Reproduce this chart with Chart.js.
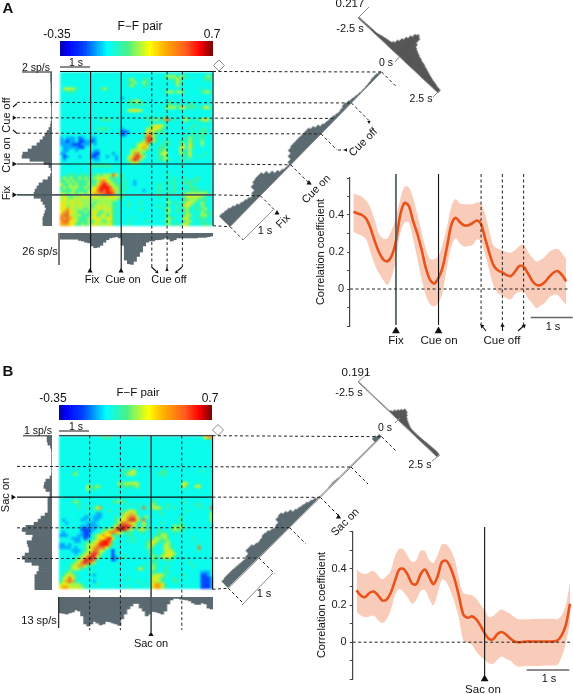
<!DOCTYPE html>
<html>
<head>
<meta charset="utf-8">
<script src="https://cdn.jsdelivr.net/npm/chart.js@4"></script>
<style>
body { margin: 0; background: #fff; font-family: "Liberation Sans", Arial, sans-serif; color: #111; }
#fig { position: relative; width: 573px; height: 694px; overflow: hidden; }
canvas { position: absolute; }
.lbl { position: absolute; white-space: nowrap; line-height: 1; }
</style>
</head>
<body>
<div id="fig"></div>
<script>
// heat cells are written in tenths of r: a=-0.2, b=-0.1, 0..7 = 0..0.7 (rows from top, 50x50)
const blank = '0000000000 0000000000 0000000000 0000000000 0000000000';
const heatA = [
blank,
'0000000000 0000000000 0000000000 0000122212 1100000120',
'0000000000 0000000000 0012100110 0000010131 0000000111',
'0000000000 0000000000 0011200210 0000000121 0000000000',
'0000000000 0000000000 0012100110 0000000020 0000000000',
'0232210000 0001210000 0000000000 0000000000 0000001000',
'0011100000 0000000000 0000000000 0000122122 1000001220',
blank,
'0000000000 0000000000 b000000000 0000000000 0000000000',
'0000000000 0000000000 0011221000 0000001000 0000000000',
'0000000000 0000000000 0011111100 0000011010 0011000000',
'0000000000 0000000000 0000000000 0000122212 3111101320',
'0000000000 0000000000 0023332000 0000000000 0000000000',
blank,
'0000000000 0000000000 0000000010 0000100000 0000000000',
'0000000000 0001111000 0000000011 1211450100 2210112320',
'0000000000 0000000000 0000000000 0000000000 0000000100',
'0000000000 0000000000 0000000001 2332100000 0001100000',
'0000000000 0011110000 b000000022 3321000000 0010001100',
'0000000000 0000000000 aab0000034 2111000000 0001011100',
'0000000000 0000000000 ab00000145 2100100000 0101101100',
'b0bbb0ab00 bb00000000 0000000156 2100000000 1021011000',
'bbabb0aabb ab00000000 0000001256 2100110001 1021002000',
'bbbbaaabbb 0b00000000 0000023341 0001010001 2031002000',
'0bbbbbaa00 0000000000 0000123430 0011100002 3031000000',
'0bb00b0000 0bb0000000 0002232210 0011200002 1020000000',
'bb00000000 baa0000b00 0002452100 0012300002 1130000100',
'0ab000b000 aab00b00b0 0023564200 0011200000 1020010000',
'0b00000000 0bb00000b0 0024652000 0011210001 1010000000',
'0000000000 0000000000 0012320000 0000000000 0000000000',
'0000000000 1111111000 0000000000 0000000000 0000000000',
blank,
blank,
'0011101110 1121222530 1000000000 0000010000 0000000000',
'1212112121 1223321110 1000000000 0000000100 0000110000',
'1121211112 1124532110 0100b00000 0000010100 1111100000',
'2112121112 1135652211 1000b00000 0010010100 0110000000',
'1212221121 2346665221 0100000000 0010000100 0011100000',
'1111211112 3356565421 1000000b00 0010010100 1011110100',
'2212212213 3445566520 1000000000 0010010100 1222222210',
'2321222332 3332233322 1000000000 0010010000 1332322100',
'2322232222 2222222221 0000000000 0000010000 1122211100',
'3323323222 2122222100 0010001000 0000020101 1332102100',
'3322323222 1232322110 0010000000 0010010010 2320102100',
'3343222212 2232323100 0000001000 0000120010 1210111200',
'3453321121 3321222110 0000000000 0000020010 1210002110',
'4553222111 2312313100 0000000000 0000110000 1220102210',
'5454321112 3332233100 0001000000 0000021100 2310011100',
'4553321112 1232122110 0000000010 0000120000 1220010100',
'4443311212 2322223100 0010000000 0000020110 3210001110'
];
const heatB = [
'0000000000 0000111000 0000001000 0000000000 0000000344',
blank, blank, blank, blank, blank, blank, blank, blank, blank, blank,
'0000010000 0000000000 0112300000 0001100000 0000001000',
'0000120000 0000000000 0123200000 0011100000 0000000000',
blank,
blank,
'0000000000 0000000002 1222320000 0000000000 3200010000',
'0000000003 1121000001 1111120000 0000000000 3100230000',
'0000000002 0100000000 0000000000 0000000000 0000000000',
blank,
blank,
blank,
'0000121000 0000000112 1100000000 1100000000 1000000000',
'0000001000 0000000000 0010010000 2100010000 0000110000',
'0000001001 0134000000 0000000510 2321010100 0000001005',
'0000000000 0010001000 1123210000 0010000000 0100000001',
'0000000000 00bb000000 1334310000 0001000000 0000000002',
'00000000bb 0bbb000010 2345530120 0000000001 0000000002',
'0b00000bb0 0bb0000012 3356631500 0000000001 0000000002',
'00b000000b bb00000012 5543310310 0001000001 0000000001',
'0000000bbb bbb0000135 6665210210 0000000212 1000000000',
'0000000aaa bb00112257 7642113211 0010001221 1000000000',
'0b00000baa b001234543 2111001100 0011100101 0000000000',
'bbb000bbaa 0123433111 0011000000 0112210000 0000000000',
'0000bbb0ab 0123356300 0000100000 1221210000 0001000000',
'00000bb001 1235665100 0010100011 3211120000 0000000000',
'bb0b000012 2346664100 0000000012 3100221000 0000010000',
'bbbb0b0012 3455531000 0000000012 1000321000 0000050000',
'0000bbb012 3553200a00 0000000001 1000232100 0000010000',
'00000b0123 5652000a00 0000000001 1001233200 0000000000',
'0000001235 6631000ab0 0100000000 2112332100 0000000000',
'0000012366 6510000ab0 0000000000 1100111000 0000000000',
'0000123565 4200000000 0000000000 1100000000 0010000000',
'0001234431 1000000000 0000000100 2100010000 0001000000',
'0001232100 0000000000 0000013100 2100100000 0000000000',
'0012100000 1000000000 0000000000 1100110000 000000bbb0',
'0123210000 0b00000000 0000000000 2232100000 100000aab0',
'0235310000 0000000000 0010000000 3321100100 000000aaab',
'1245410000 0b00000000 0000010000 3221000110 000000aaab',
'2332222100 0010000000 0000000100 3443100000 000000aaab',
'3443232210 0000000000 0010000000 3442100000 000000aaab'
];

// firing rates (sp/s), rows/bins from the start of the window
const leftA = [.1,.1,.1,.08,.07,.07,.07,.07,.07,.07,.05,.03,.03,.03,.03,.03,.07,.1,.21,.34,.48,.62,.82,1.03,1.37,1.64,1.99,2.05,1.51,.55,.21,.07,.03,.1,.27,.62,.89,1.03,1.16,1.23,1.23,.75,.62,.48,.41,.48,.55,.62,.62,.62];
const bottomA = [5,5,5,5,5,5,6,6.5,7.5,8,10.5,12,11.5,10,7.5,5.5,4,3.5,3,4,10,22,25,25.5,23,19,15.5,10.5,7.5,6.5,6.5,5.5,5.5,5,4,5,6.5,5.5,4,4,4,4,4,4,4,3.5,3.5,3.5,3,2.5];
const diagRateA = [1.03,.99,.96,.86,.75,.62,.55,.48,.38,.55,.89,1.03,1.08,1.07,.89,.62,.38,.21,.12,.1,.27,.55,.82,.89,.89,.9,.89,.89,.89,.75,.58,.41,.32,.29,.27,.21,.17,.21,.31,.24,.18,.14,.1,.07,.07,.09,.12,.17,.17,.1];
const crossA = [.008,.008,.008,.009,.01,.011,.011,.011,.012,.012,.013,.015,.019,.023,.026,.03,.032,.034,.038,.053,.083,.113,.143,.173,.203,.217,.203,.158,.135,.124,.116,.109,.101,.098,.09,.086,.083,.075,.071,.064,.06,.054,.05,.045,.041,.038,.034,.03,.028,.026];

const leftB = [.17,.17,.14,.05,.02,.01,.01,.01,.01,.01,.01,.01,.02,.07,.21,.26,.28,.21,.07,.07,.14,.14,.14,.14,.14,.24,.38,.48,.62,.9,1.03,.9,.66,.69,.86,.83,.79,.79,.93,1.03,.93,.69,.45,.45,.52,.59,.59,.59,.59,.59];
const bottomB = [6.9,7.1,7.4,6.9,6.5,5.6,6.1,8.2,11.7,12.6,11.7,10.6,11.3,12.1,11.7,10.6,10.8,11.3,11.7,12.3,9.5,7.4,5.2,3.9,2.8,2.8,4.8,6.1,8.2,7.4,6.3,6.5,6.9,7.4,6.1,3,1.3,.6,.6,.9,1.1,1.3,1.7,2.6,3.2,3.2,2.6,3,4.8,5.2];
const diagRateB = [.31,.33,.33,.33,.32,.31,.3,.29,.34,.48,.48,.41,.38,.4,.45,.43,.38,.34,.38,.52,.55,.48,.4,.29,.25,.22,.19,.14,.1,.03,.01,.01,.01,.03,.04,.03,.01,.01,.01,.01,.01,.01,.01,.01,.01,.01,.01,.01,.16,.1];
const crossB = [.005,.005,.005,.005,.005,.005,.005,.005,.005,.005,.005,.005,.005,.005,.005,.005,.005,.005,.005,.012,.031,.076,.115,.153,.191,.183,.153,.115,.092,.076,.061,.046,.038,.035,.034,.034,.034,.036,.038,.04,.042,.044,.046,.048,.05,.052,.054,.056,.054,.05];

// correlation time courses
const timesA = [-1,-.9,-.8,-.7,-.6,-.5,-.4,-.3,-.2,-.1,0,.1,.2,.3,.4,.5,.6,.7,.8,.9,1,1.1,1.2,1.3,1.4,1.5,1.6,1.7,1.8,1.9,2,2.1,2.2,2.3,2.4,2.5,2.6,2.7,2.8,2.9,3,3.1,3.2,3.3,3.4,3.5,3.6,3.7,3.8,3.9,4];
const meanA = [.418,.408,.4,.38,.33,.26,.2,.16,.15,.18,.26,.4,.465,.45,.37,.3,.215,.115,.05,.03,.06,.12,.23,.345,.385,.362,.344,.345,.356,.37,.35,.27,.19,.125,.1,.09,.075,.07,.095,.125,.12,.085,.045,.022,.022,.038,.065,.088,.097,.076,.042];
const upperA = [.517,.508,.5,.477,.441,.373,.297,.272,.276,.319,.387,.485,.553,.55,.495,.405,.31,.22,.162,.162,.175,.247,.337,.445,.486,.463,.458,.458,.458,.468,.463,.4,.31,.232,.218,.209,.2,.196,.211,.232,.241,.202,.171,.148,.16,.175,.2,.214,.216,.193,.16];
const lowerA = [.31,.297,.288,.268,.202,.133,.085,.049,.022,.067,.16,.3,.36,.359,.274,.166,.054,-.032,-.083,-.095,-.077,-.014,.121,.229,.274,.247,.229,.232,.238,.268,.256,.184,.094,.013,-.023,-.036,-.05,-.056,-.027,-.016,-.014,-.05,-.077,-.104,-.09,-.074,-.045,-.032,-.032,-.059,-.086];

const timesB = [-3,-2.9,-2.8,-2.7,-2.6,-2.5,-2.4,-2.3,-2.2,-2.1,-2,-1.9,-1.8,-1.7,-1.6,-1.5,-1.4,-1.3,-1.2,-1.1,-1,-.9,-.8,-.7,-.6,-.5,-.4,-.3,-.2,-.1,0,.1,.2,.3,.4,.5,.6,.7,.8,.9,1,1.1,1.2,1.3,1.4,1.5,1.6,1.7,1.8,1.9,2];
const meanB = [.282,.253,.245,.267,.275,.256,.227,.231,.267,.333,.395,.398,.365,.318,.315,.369,.395,.355,.315,.358,.436,.442,.405,.34,.249,.151,.133,.14,.125,.091,.049,.018,.016,.045,.055,.042,.02,.004,0,.002,.004,.004,.004,.004,.004,.004,.004,.009,.036,.091,.209];
const upperB = [.395,.378,.369,.38,.387,.364,.342,.358,.387,.467,.507,.504,.467,.436,.445,.496,.496,.445,.431,.473,.531,.531,.504,.449,.345,.267,.26,.255,.238,.205,.176,.136,.142,.164,.178,.167,.155,.136,.124,.124,.125,.125,.127,.127,.127,.127,.127,.125,.145,.2,.327];
const lowerB = [.164,.145,.136,.14,.145,.122,.104,.122,.173,.255,.289,.273,.242,.209,.231,.278,.285,.236,.2,.264,.34,.327,.278,.213,.127,.009,-.005,-.013,-.051,-.076,-.096,-.115,-.118,-.096,-.078,-.091,-.1,-.122,-.133,-.131,-.129,-.129,-.129,-.129,-.127,-.127,-.127,-.124,-.082,-.009,.109];

const colorStops = [[0,0,0,170],[.05,0,0,255],[.16,0,70,255],[.31,0,255,255],[.44,70,240,140],[.59,255,255,0],[.68,255,180,0],[.83,255,90,30],[.92,255,0,0],[1,128,0,0]];

const fig = document.getElementById('fig');
const slate = '#5b6a71';

function heatColor(v) {
    const f = Math.min(1, Math.max(0, (v + 0.35) / 1.05));
    for (let i = 1; i < colorStops.length; i++) {
        if (f <= colorStops[i][0]) {
            const a = colorStops[i - 1], b = colorStops[i];
            const k = (f - a[0]) / (b[0] - a[0]);
            return `rgb(${a[1] + (b[1] - a[1]) * k},${a[2] + (b[2] - a[2]) * k},${a[3] + (b[3] - a[3]) * k})`;
        }
    }
    return 'rgb(128,0,0)';
}

function addCanvas(x, y, w, h) {
    const c = document.createElement('canvas');
    c.width = w; c.height = h;
    c.style.left = x + 'px'; c.style.top = y + 'px';
    c.style.width = w + 'px'; c.style.height = h + 'px';
    fig.appendChild(c);
    return c;
}

const baseOptions = {
    responsive: false,
    animation: false,
    events: [],
    plugins: { legend: { display: false }, tooltip: { enabled: false } },
    layout: { padding: 0, autoPadding: false }
};

function drawColorbar(x, y, w, h) {
    const vals = [];
    for (let i = 0; i <= 105; i++) vals.push(-0.35 + i / 100);
    new Chart(addCanvas(x, y, w, h), {
        type: 'bar',
        data: { labels: vals, datasets: [{ data: vals.map(() => 1), backgroundColor: vals.map(heatColor), categoryPercentage: 1, barPercentage: 1, borderWidth: 0 }] },
        options: { ...baseOptions, scales: { x: { display: false }, y: { display: false, min: 0, max: 1 } } }
    });
}

function drawHeat(rows, p) {
    const pts = [], cols = [];
    rows.forEach((row, r) => {
        row.replace(/ /g, '').split('').forEach((ch, c) => {
            const v = ch === 'a' ? -0.2 : ch === 'b' ? -0.1 : Number(ch) / 10;
            pts.push({ x: c + 0.5, y: r + 0.5 });
            cols.push(heatColor(v));
        });
    });
    const cv = addCanvas(p.x, p.y, p.w, p.h);
    cv.style.background = '#00ffff';
    cv.style.filter = 'blur(0.8px)';
    new Chart(cv, {
        type: 'scatter',
        data: { datasets: [{ data: pts, pointStyle: 'rect', pointRadius: 2.2, pointBorderWidth: 0, pointBackgroundColor: cols }] },
        options: { ...baseOptions, scales: { x: { display: false, min: 0, max: 50 }, y: { display: false, min: 0, max: 50, reverse: true } } }
    });
}

// histogram, hanging off one edge of its canvas
function histOptions(horizontal, reversed, max) {
    const v = { display: false, min: 0, max: max, reverse: reversed };
    const cat = { display: false };
    return { ...baseOptions, indexAxis: horizontal ? 'y' : 'x', scales: horizontal ? { y: cat, x: v } : { x: cat, y: v } };
}

function drawHist(canvas, values, color, horizontal, reversed, max) {
    new Chart(canvas, {
        type: 'bar',
        data: { labels: values.map((_, i) => i), datasets: [{ data: values, backgroundColor: color, categoryPercentage: 1, barPercentage: 1, borderWidth: 0 }] },
        options: histOptions(horizontal, reversed, max)
    });
}

// canvas laid along a slanted baseline, bars stand on the baseline
function drawSlanted(b, h, values, color, max) {
    const len = Math.hypot(b.x1 - b.x0, b.y1 - b.y0);
    const c = addCanvas(b.x0, b.y0 - h, Math.round(len), h);
    c.style.transformOrigin = '0 100%';
    c.style.transform = `rotate(${Math.atan2(b.y1 - b.y0, b.x1 - b.x0)}rad)`;
    drawHist(c, values, color, false, false, max);
}

function drawCourse(g, times, mean, upper, lower) {
    const xy = arr => arr.map((v, i) => ({ x: times[i], y: v }));
    const cv = addCanvas(g.cx, g.cy, g.cw, g.ch);
    new Chart(cv, {
        type: 'line',
        data: { datasets: [
            { data: xy(mean), borderColor: '#e9521a', borderWidth: 2.6, pointRadius: 0, tension: 0.3, fill: false },
            { data: xy(upper), borderWidth: 0, pointRadius: 0, tension: 0.3, fill: '+1', backgroundColor: '#f8ccb8' },
            { data: xy(lower), borderWidth: 0, pointRadius: 0, tension: 0.3, fill: false }
        ] },
        options: {
            ...baseOptions,
            layout: { padding: { top: g.top, bottom: g.bottom, left: 0, right: 0 }, autoPadding: false },
            scales: {
                x: { type: 'linear', display: false, min: g.tMin, max: g.tMax },
                y: {
                    min: -0.2, max: 0.6,
                    afterFit(s) { s.width = g.axisW; s.paddingTop = 0; s.paddingBottom = 0; },
                    border: { color: '#444', width: 1.2 },
                    grid: { drawOnChartArea: false, tickLength: 3, color: '#444' },
                    ticks: {
                        stepSize: 0.1, autoSkip: false, padding: 3, color: '#222', maxRotation: 0,
                        font: { family: '"Liberation Sans"', size: 11 },
                        callback(v) {
                            const r = Math.round(v * 10) / 10;
                            return (r === 0.4 || r === 0.2 || r === 0) ? String(r) : '';
                        }
                    }
                }
            }
        }
    });
}

// ---- layout
const pA = { x: 60, y: 71.5, w: 153, h: 154.2, t0: -1 };
const pB = { x: 59, y: 435.7, w: 153.5, h: 153.6, t0: -3 };
const diagA = { x0: 230, y0: 226.7, x1: 381.7, y1: 72 };
const diagB = { x0: 228.3, y0: 588.3, x1: 381.7, y1: 436.7 };
const topA = { x0: 358, y0: 18, x1: 438, y1: 93 };
const topB = { x0: 358, y0: 382, x1: 437, y1: 457 };
const gA = { cx: 310, cy: 160, cw: 263, ch: 200, top: 18, bottom: 34, axisW: 40, tMin: -1.08, tMax: 4.16 };
const gB = { cx: 310, cy: 510, cw: 263, ch: 184, top: 21.7, bottom: 15, axisW: 42.7, tMin: -3.09, tMax: 2.07 };

drawColorbar(60, 41, 153, 15);
drawHeat(heatA, pA);
drawHist(addCanvas(21, 71.5, 31, 154), leftA, slate, true, true, 2.12);
drawHist(addCanvas(60, 233, 153, 32), bottomA, slate, false, true, 26);
drawSlanted(diagA, 20, diagRateA, slate, 1.37);
drawSlanted(topA, 32, crossA, '#565656', 0.24);
drawCourse(gA, timesA, meanA, upperA, lowerA);

drawColorbar(58.7, 405, 153.5, 15);
drawHeat(heatB, pB);
drawHist(addCanvas(21, 435.7, 31, 154), leftB, slate, true, true, 1.07);
drawHist(addCanvas(59, 597.3, 153.5, 30), bottomB, slate, false, true, 13);
drawSlanted(diagB, 20, diagRateB, slate, 0.69);
drawSlanted(topB, 16, crossB, '#565656', 0.245);
drawCourse(gB, timesB, meanB, upperB, lowerB);

// ---- guides and arrows, all on one page-sized chart on top
const xAt = (p, t) => p.x + (t - p.t0) / 5 * p.w;
const yAt = (p, t) => p.y + p.h - (t - p.t0) / 5 * p.h;
const dAt = (p, d, t) => { const k = (t - p.t0) / 5; return [d.x0 + (d.x1 - d.x0) * k, d.y0 + (d.y1 - d.y0) * k]; };
const gx = (g, t) => g.cx + g.axisW + (t - g.tMin) / (g.tMax - g.tMin) * (g.cw - g.axisW);
const gy = (g, v) => g.cy + g.top + (0.6 - v) / 0.8 * (g.ch - g.top - g.bottom);

const styles = {
    dash: { color: '#222', width: 1, dash: [3, 2.5], pts: [] },
    solid: { color: '#111', width: 1.1, dash: [], pts: [] },
    thick: { color: '#4b5a5e', width: 1.7, dash: [], pts: [] },
    thin: { color: '#8a8a8a', width: 1, dash: [], pts: [] },
    bar: { color: '#666', width: 1.4, dash: [], pts: [] }
};
const line = (s, ...xy) => {
    for (let i = 0; i < xy.length; i += 2) styles[s].pts.push({ x: xy[i], y: xy[i + 1] });
    styles[s].pts.push({ x: NaN, y: NaN });
};
const arrows = [];
const arrow = (x, y, rot, r) => arrows.push({ x, y, rot, r: r || 3 });

function panelGuides(p, d, g, solidT, thickT, dashT, cross) {
    // verticals
    thickT.forEach(t => line(p === pA ? 'solid' : 'thick', xAt(p, t), p.y, xAt(p, t), cross.vEndSolid));
    solidT.forEach(t => line('solid', xAt(p, t), p.y, xAt(p, t), cross.vEndSolid));
    dashT.forEach(t => line('dash', xAt(p, t), p.y, xAt(p, t), cross.vEndDash));
    // horizontals
    solidT.forEach(t => {
        const q = dAt(p, d, t);
        line('solid', 17, yAt(p, t), p.x + p.w, yAt(p, t));
        line('dash', p.x + p.w, yAt(p, t), q[0], q[1]);
    });
    thickT.forEach(t => {
        const q = dAt(p, d, t);
        line(p === pA ? 'thick' : 'solid', 17, yAt(p, t), p.x + p.w, yAt(p, t));
        line('dash', p.x + p.w, yAt(p, t), q[0], q[1]);
    });
    dashT.forEach(t => {
        const q = dAt(p, d, t);
        line('dash', 17, yAt(p, t), q[0], q[1]);
    });
    line('dash', p.x + p.w, p.y, d.x1, d.y1);
    line('dash', p.x + p.w, p.y + p.h, d.x0, d.y0);
    // box
    line('solid', p.x, p.y, p.x + p.w, p.y, p.x + p.w, p.y + p.h);
    // diagonal axis
    line('thin', d.x0, d.y0, d.x1, d.y1);
    // time course lines
    const y0 = gy(g, 0);
    line('dash', gx(g, g.tMin), y0, 570, y0);
}

panelGuides(pA, diagA, gA, [1], [0], [2, 2.5, 3], { vEndSolid: 270, vEndDash: 267 });
panelGuides(pB, diagB, gB, [], [0], [-2, -1, 1], { vEndSolid: 632, vEndDash: 630 });

// A: rate scale bars
line('bar', 60, 67, 90, 67);
line('bar', 22, 72, 52, 72);
line('solid', 59, 233, 59, 265);
// A: cue-off arrows under the map
line('solid', 151.5, 267, 156, 271);
line('solid', 182, 267, 177.5, 271);
line('solid', 167, 267, 167, 271);
arrow(157, 272, 135, 2); arrow(167, 270, 0, 2); arrow(176.5, 272, 225, 2);
arrow(90, 271, 0, 3); arrow(121, 271, 0, 3);
arrow(14, yAt(pA, 0), 90, 3); arrow(14, yAt(pA, 1), 90, 3);
arrow(14, yAt(pA, 2.5), 90, 2.5);
line('solid', 13, 107, 17, 103.5);
line('solid', 13, 130, 17, 133.5);
// A: off-diagonal ticks and labels
const diagTicks = (d, p, t, len, s) => { const q = dAt(p, d, t); line(s || 'dash', q[0], q[1], q[0] + len, q[1] + len); };
diagTicks(diagA, pA, 0, 15);
diagTicks(diagA, pA, 1, 20);
diagTicks(diagA, pA, 2, 16);
diagTicks(diagA, pA, 3, 18);
diagTicks(diagA, pA, 4, 15);
diagTicks(diagA, pA, -1, 13);
line('thin', 243, 240, 273, 210);
line('dash', 338, 150, 346, 150);
arrow(277, 213, 0, 3); arrow(309, 183, 0, 3);
arrow(346, 150, 270, 2); arrow(369, 122, 180, 2);
line('thin', 358, 18, 369, 7);
line('thin', 395, 62, 400, 56);
line('thin', 433, 97, 440, 90);
line('thin', 358, 18, 438, 93);
// A: time course events
[0].forEach(t => line('thick', gx(gA, t), 174, gx(gA, t), 325));
[1].forEach(t => line('solid', gx(gA, t), 174, gx(gA, t), 325));
[2, 2.5, 3].forEach(t => line('dash', gx(gA, t), 174, gx(gA, t), 325));
[0, 1].forEach(t => arrow(gx(gA, t), 331, 0, 4.5));
line('solid', 482, 326, 486, 331);
line('solid', 502.5, 326, 502.5, 331);
line('solid', 523.5, 326, 518, 331);
arrow(482, 326, 315, 2.5); arrow(502.5, 325.5, 0, 2.5); arrow(524, 326, 45, 2.5);
line('bar', 530.7, 317.5, 572.7, 317.5);

// B
line('bar', 59, 431, 89, 431);
line('bar', 23, 435.7, 52, 435.7);
line('solid', 58.7, 597, 58.7, 628);
arrow(151, 634.5, 0, 3);
arrow(13, yAt(pB, 0), 90, 3);
diagTicks(diagB, pB, 0, 18);
diagTicks(diagB, pB, -1, 16);
diagTicks(diagB, pB, -2, 16);
diagTicks(diagB, pB, 1, 17);
diagTicks(diagB, pB, 2, 15);
diagTicks(diagB, pB, -3, 14);
line('thin', 242, 605, 273, 573);
arrow(338.5, 517, 0, 3);
line('thin', 358, 382, 369, 372);
line('thin', 395, 423, 400, 418);
line('thin', 432, 461, 440, 455);
line('thin', 358, 382, 437, 457);
[0].forEach(t => line('solid', gx(gB, t), 527, gx(gB, t), 675));
arrow(gx(gB, 0), 679, 0, 4.5);
line('bar', 526.7, 670, 569.3, 670);

const overlay = addCanvas(0, 0, 573, 694);
new Chart(overlay, {
    type: 'scatter',
    data: { datasets: [
        ...Object.values(styles).map(s => ({
            data: s.pts, showLine: true, spanGaps: false, pointRadius: 0,
            borderColor: s.color, borderWidth: s.width, borderDash: s.dash, fill: false
        })),
        {
            data: arrows.map(a => ({ x: a.x, y: a.y })), pointStyle: 'triangle',
            pointRadius: arrows.map(a => a.r), pointRotation: arrows.map(a => a.rot),
            pointBackgroundColor: '#111', pointBorderWidth: 0
        },
        {
            data: [{ x: 219, y: 65.5 }, { x: 218, y: 430 }], pointStyle: 'rectRot', pointRadius: 5.5,
            pointBackgroundColor: '#fff', pointBorderColor: '#888', pointBorderWidth: 1
        }
    ] },
    options: { ...baseOptions, scales: { x: { display: false, min: 0, max: 573 }, y: { display: false, min: 0, max: 694, reverse: true } } }
});

// ---- text
const labels = [
    ['A', 8, 7, 15, 0, true], ['B', 8, 370, 15, 0, true],
    ['F\u2212F pair', 140, 26, 12, 0], ['-0.35', 57, 34, 12, 0], ['0.7', 212, 34, 12, 0],
    ['1 s', 76, 62, 10.5, 0], ['2 sp/s', 36, 67, 10.5, 0],
    ['Cue off', 5.5, 115, 11, -90], ['Cue on', 5.5, 155, 11, -90], ['Fix', 5.5, 193, 11, -90],
    ['26 sp/s', 40, 251, 11, 0],
    ['Fix', 92, 279, 11, 0], ['Cue on', 123, 279, 11, 0], ['Cue off', 169, 279, 11, 0],
    ['0.217', 350, 4, 11.5, 0], ['-2.5 s', 350, 28, 11, 0], ['0 s', 386, 62, 10.5, 0], ['2.5 s', 421, 98, 10.5, 0],
    ['Fix', 283, 221, 11, -45], ['1 s', 265, 230, 11, 0], ['Cue on', 316, 189, 11, -45], ['Cue off', 363, 142, 11, -45],
    ['Correlation coefficient', 320, 252, 11, -90],
    ['Fix', 396, 341, 11.5, 0], ['Cue on', 439, 341, 11.5, 0], ['Cue off', 502, 341, 11.5, 0], ['1 s', 553, 326, 11, 0],
    ['F\u2212F pair', 138, 393, 11.5, 0], ['-0.35', 53, 398, 12, 0], ['0.7', 210, 398, 12, 0],
    ['1 s', 76, 426, 10.5, 0], ['1 sp/s', 38, 430, 10.5, 0], ['Sac on', 4.5, 495, 11, -90], ['13 sp/s', 39, 620, 11, 0],
    ['Sac on', 151, 643, 11, 0],
    ['0.191', 356, 373, 11.5, 0], ['-2.5 s', 349, 392, 11, 0], ['0 s', 385, 427, 10.5, 0], ['2.5 s', 420, 464, 10.5, 0],
    ['1 s', 264, 593, 11, 0], ['Sac on', 345, 522, 11, -45],
    ['Correlation coefficient', 321, 605, 11, -90],
    ['Sac on', 483, 690, 11.5, 0], ['1 s', 549, 678, 11, 0]
];
labels.forEach(([txt, x, y, size, rot, bold]) => {
    const el = document.createElement('div');
    el.className = 'lbl';
    el.textContent = txt;
    el.style.left = x + 'px';
    el.style.top = y + 'px';
    el.style.fontSize = size + 'px';
    if (bold) el.style.fontWeight = 'bold';
    el.style.transform = `translate(-50%,-50%) rotate(${rot}deg)`;
    fig.appendChild(el);
});
</script>
</body>
</html>
